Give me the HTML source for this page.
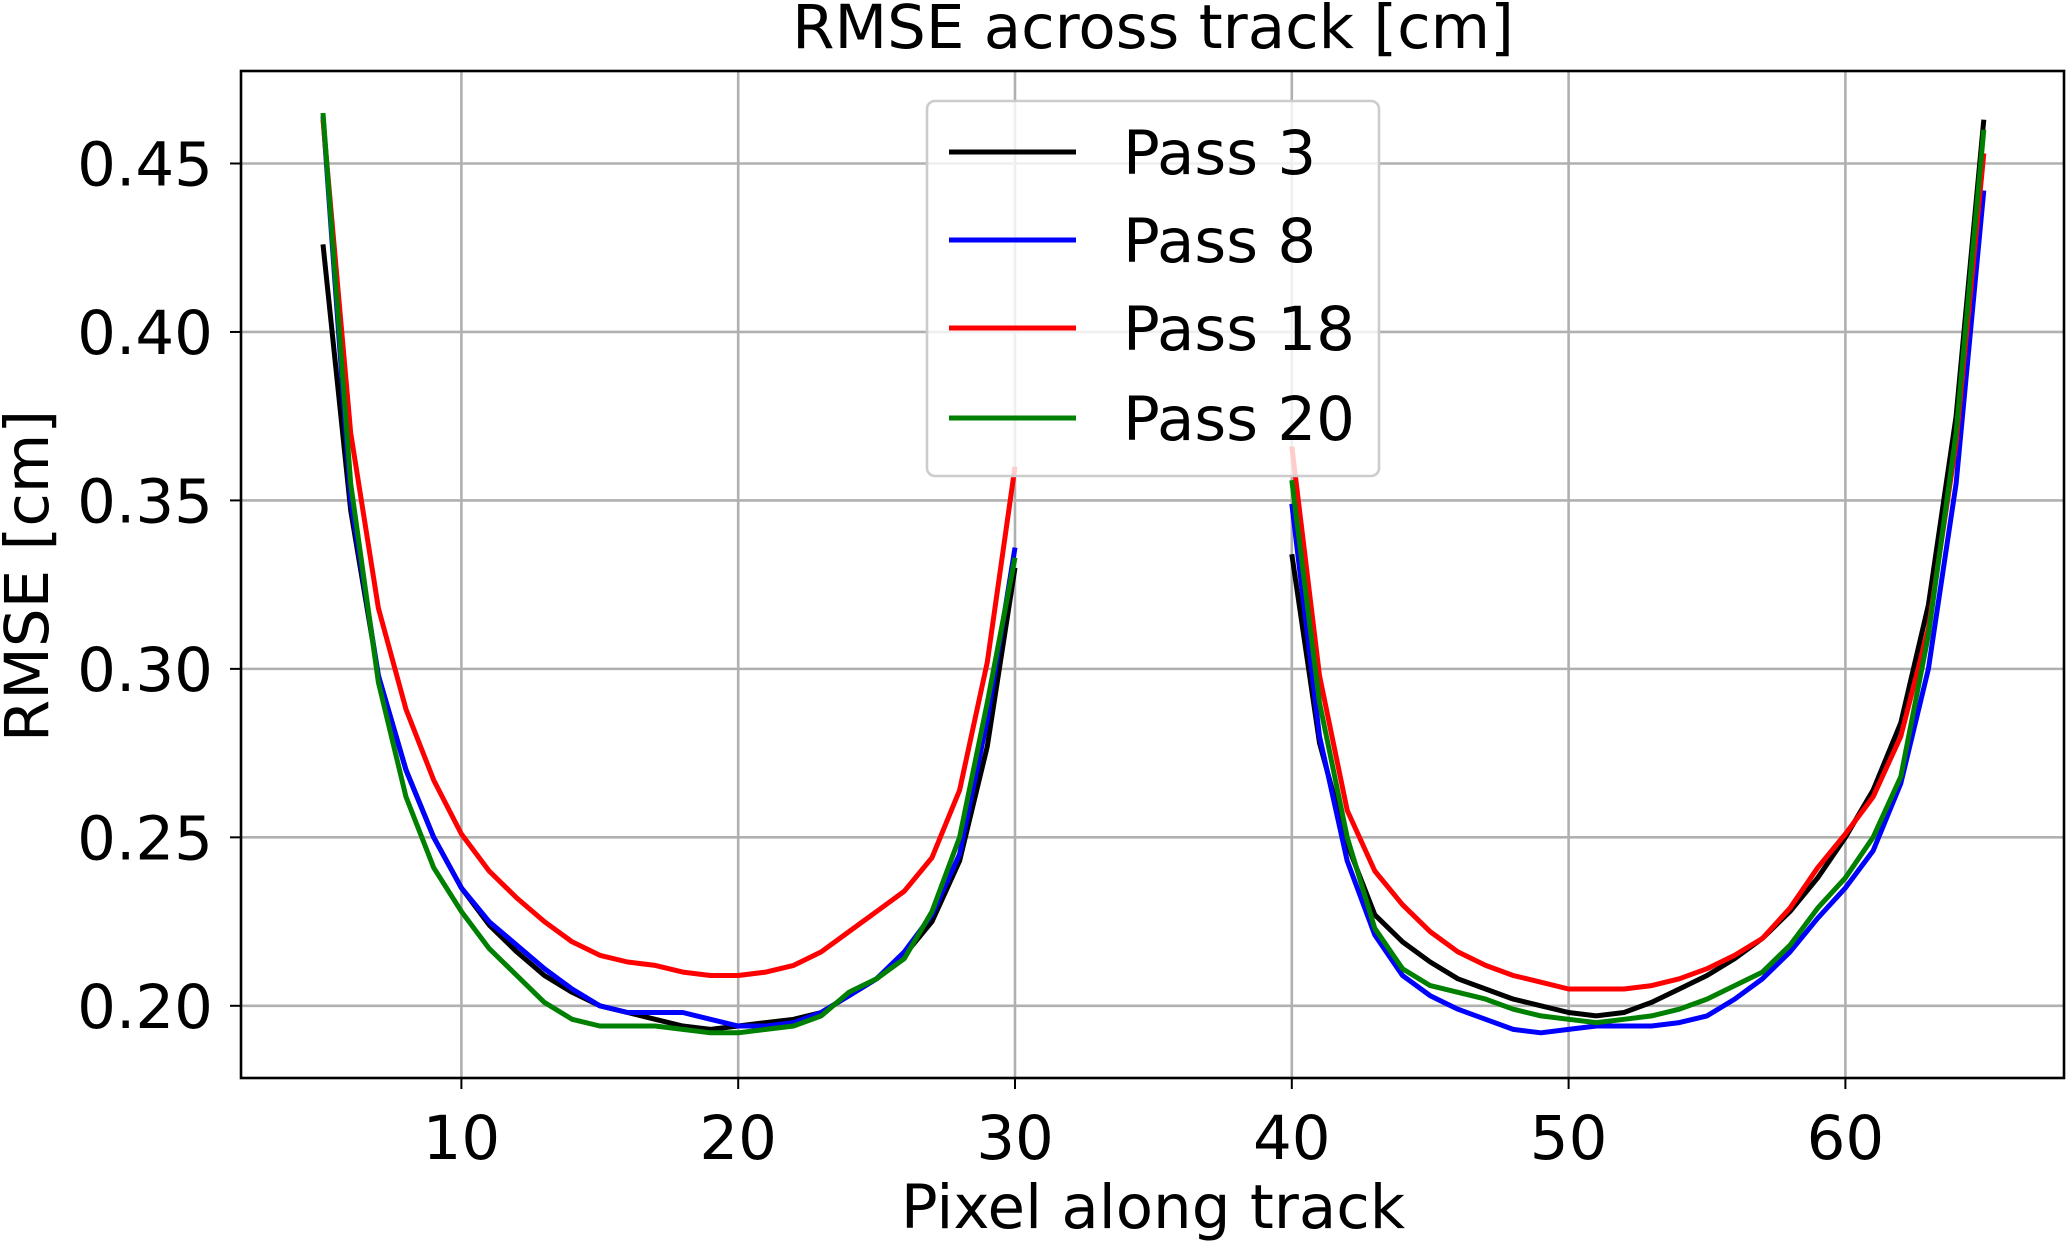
<!DOCTYPE html>
<html><head><meta charset="utf-8"><style>
html,body{margin:0;padding:0;background:#fff;}
svg{display:block;font-family:"DejaVu Sans","Liberation Sans",sans-serif;}
</style></head><body>
<svg id="chart" width="2067" height="1242" viewBox="0 0 2067 1242"></svg>
<script>
const xTicks=[10,20,30,40,50,60];
const yTicks=[0.20,0.25,0.30,0.35,0.40,0.45];
const yTickLabels=["0.20","0.25","0.30","0.35","0.40","0.45"];
const seg1=[5,6,7,8,9,10,11,12,13,14,15,16,17,18,19,20,21,22,23,24,25,26,27,28,29,30];
const seg2=[40,41,42,43,44,45,46,47,48,49,50,51,52,53,54,55,56,57,58,59,60,61,62,63,64,65];
const seriesNames=["Pass 3","Pass 8","Pass 18","Pass 20"];
const seriesColors=["#000000","#0000ff","#ff0000","#008000"];
const pass3a=[0.426,0.347,0.298,0.27,0.25,0.235,0.224,0.216,0.209,0.204,0.200,0.198,0.196,0.194,0.193,0.194,0.195,0.196,0.198,0.203,0.208,0.215,0.225,0.243,0.277,0.330];
const pass3b=[0.334,0.278,0.248,0.227,0.219,0.213,0.208,0.205,0.202,0.200,0.198,0.197,0.198,0.201,0.205,0.209,0.214,0.220,0.228,0.238,0.250,0.264,0.284,0.319,0.375,0.463];
const pass8a=[0.464,0.35,0.298,0.27,0.25,0.235,0.225,0.218,0.211,0.205,0.200,0.198,0.198,0.198,0.196,0.194,0.194,0.195,0.198,0.203,0.208,0.216,0.227,0.245,0.285,0.336];
const pass8b=[0.349,0.28,0.243,0.221,0.209,0.203,0.199,0.196,0.193,0.192,0.193,0.194,0.194,0.194,0.195,0.197,0.202,0.208,0.216,0.226,0.235,0.246,0.266,0.300,0.355,0.442];
const pass18a=[0.463,0.370,0.318,0.288,0.267,0.251,0.240,0.232,0.225,0.219,0.215,0.213,0.212,0.210,0.209,0.209,0.210,0.212,0.216,0.222,0.228,0.234,0.244,0.264,0.302,0.360];
const pass18b=[0.366,0.298,0.258,0.240,0.230,0.222,0.216,0.212,0.209,0.207,0.205,0.205,0.205,0.206,0.208,0.211,0.215,0.220,0.229,0.241,0.251,0.262,0.280,0.312,0.367,0.453];
const pass20a=[0.465,0.355,0.296,0.262,0.241,0.228,0.217,0.209,0.201,0.196,0.194,0.194,0.194,0.193,0.192,0.192,0.193,0.194,0.197,0.204,0.208,0.214,0.228,0.250,0.290,0.333];
const pass20b=[0.356,0.290,0.250,0.223,0.211,0.206,0.204,0.202,0.199,0.197,0.196,0.195,0.196,0.197,0.199,0.202,0.206,0.210,0.218,0.229,0.238,0.250,0.268,0.310,0.370,0.460];

const L=241,R=2064,T=71,B=1078;
const X=v=>184.6+v*27.68;
const Y=v=>1005.8-(v-0.20)*(842.3/0.25);
const svg=document.getElementById('chart');
const NS='http://www.w3.org/2000/svg';
function mk(tag,attrs,parent){const e=document.createElementNS(NS,tag);for(const k in attrs)e.setAttribute(k,attrs[k]);(parent||svg).appendChild(e);return e;}

xTicks.forEach(t=>{
  const g=mk('line',{x1:X(t),x2:X(t),y1:T,y2:B,stroke:'#b0b0b0','stroke-width':2.6});
  
  
  const tk=mk('line',{x1:X(t),x2:X(t),y1:B,y2:B+11,stroke:'#000','stroke-width':2});
  
  
  const tx=mk('text',{x:X(t),y:1159,'font-size':61,'text-anchor':'middle',fill:'#000'});
  tx.textContent=t;
  
  
});
yTicks.forEach((t,i)=>{
  const g=mk('line',{x1:L,x2:R,y1:Y(t),y2:Y(t),stroke:'#b0b0b0','stroke-width':2.6});
  
  
  const tk=mk('line',{x1:L-11,x2:L,y1:Y(t),y2:Y(t),stroke:'#000','stroke-width':2});
  
  
  const tx=mk('text',{x:213,y:Y(t)+22,'font-size':61,'text-anchor':'end',fill:'#000'});
  tx.textContent=yTickLabels[i];
  
  
});

const allSeries=[[pass3a,pass3b],[pass8a,pass8b],[pass18a,pass18b],[pass20a,pass20b]];
allSeries.forEach((s,i)=>{
  [[seg1,s[0]],[seg2,s[1]]].forEach(([xs,ys])=>{
    const d=xs.map((x,j)=>(j?'L':'M')+X(x).toFixed(1)+','+Y(ys[j]).toFixed(1)).join(' ');
    const p=mk('path',{d:d,fill:'none',stroke:seriesColors[i],'stroke-width':5,'stroke-linejoin':'round'});
    
    
  });
});

const frame=mk('rect',{x:L,y:T,width:R-L,height:B-T,fill:'none',stroke:'#000','stroke-width':2.6});



const lg=mk('rect',{x:927,y:101,width:452,height:375,rx:8,fill:'#fff','fill-opacity':0.8,stroke:'#cccccc','stroke-width':2.6});


const ly=[152,240,328,418];
seriesNames.forEach((n,i)=>{
  const l=mk('line',{x1:949,x2:1076,y1:ly[i],y2:ly[i],stroke:seriesColors[i],'stroke-width':5});
  
  
  const t=mk('text',{x:1123,y:ly[i]+22,'font-size':61,fill:'#000'});
  t.textContent=n;
  
  
});

const title=mk('text',{x:1153,y:48,'font-size':61,'text-anchor':'middle',fill:'#000'});
title.textContent='RMSE across track [cm]';


const xl=mk('text',{x:1153,y:1228,'font-size':61,'text-anchor':'middle',fill:'#000'});
xl.textContent='Pixel along track';


const yl=mk('text',{x:0,y:0,'font-size':61,'text-anchor':'middle',fill:'#000',transform:'translate(48,576) rotate(-90)'});
yl.textContent='RMSE [cm]';


</script>
</body></html>
